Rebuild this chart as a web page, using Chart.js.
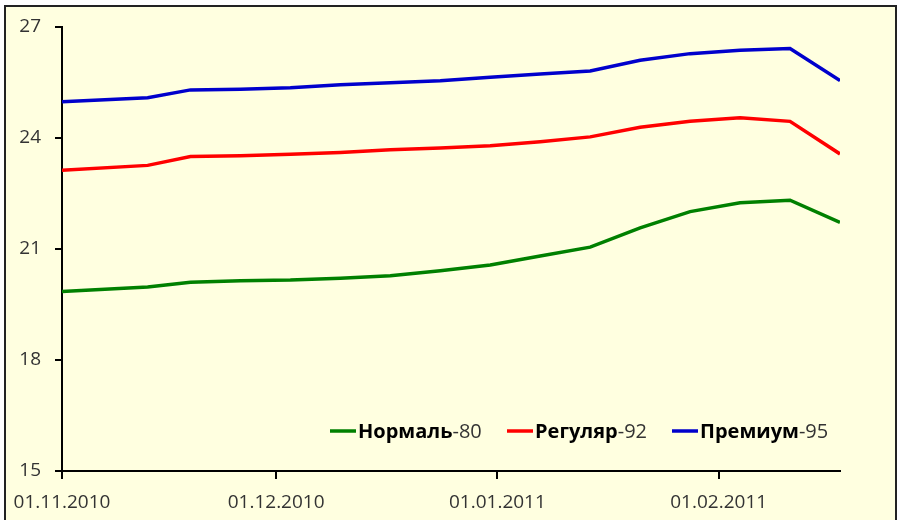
<!DOCTYPE html>
<html>
<head>
<meta charset="utf-8">
<script src="https://cdn.jsdelivr.net/npm/chart.js@4"></script>
<style>
    html, body { margin: 0; padding: 0; background: #fff; }
    #wrap { width: 898px; height: 520px; }
</style>
</head>
<body>
<div id="wrap"><canvas id="priceChart" width="898" height="520"></canvas></div>
<script>
// ----------------------------- Data -----------------------------------------
// x = days since 01.11.2010
const days = [0, 12, 18, 25, 32, 39, 46, 53, 60, 67, 74, 81, 88, 95, 102, 109];
const normal80 = [19.85, 19.97, 20.10, 20.14, 20.16, 20.21, 20.28, 20.41, 20.57, 20.81, 21.05, 21.57, 22.01, 22.25, 22.32, 21.72];
const regular92 = [23.13, 23.26, 23.50, 23.52, 23.56, 23.61, 23.68, 23.73, 23.79, 23.90, 24.03, 24.29, 24.45, 24.55, 24.45, 23.57];
const premium95 = [24.98, 25.09, 25.30, 25.32, 25.36, 25.44, 25.49, 25.55, 25.64, 25.73, 25.81, 26.10, 26.28, 26.37, 26.42, 25.55];

const tickDays = [0, 30, 61, 92];
const tickLabels = ["01.11.2010", "01.12.2010", "01.01.2011", "01.02.2011"];
const seriesNames = [["Нормаль", "-80"], ["Регуляр", "-92"], ["Премиум", "-95"]];
const seriesColors = ["#008000", "#ff0000", "#0000cc"];

const FONT = "'Open Sans', 'Noto Sans', sans-serif";

// ----------------------------- Plugins --------------------------------------
const frameBg = {
    id: "frameBg",
    beforeDraw(chart) {
        const ctx = chart.ctx;
        ctx.save();
        ctx.fillStyle = "#ffffff";
        ctx.fillRect(0, 0, chart.width, chart.height);
        ctx.fillStyle = "#ffffe0";
        ctx.fillRect(5, 6, 891, chart.height - 6);
        ctx.strokeStyle = "#222";
        ctx.lineWidth = 2;
        ctx.beginPath();
        ctx.moveTo(5, chart.height + 2);
        ctx.lineTo(5, 6);
        ctx.lineTo(896, 6);
        ctx.lineTo(896, chart.height + 2);
        ctx.stroke();
        ctx.restore();
    }
};

// legend with bold name + normal suffix
const legendStarts = [330, 507, 672];
const mixedLegend = {
    id: "mixedLegend",
    afterDraw(chart) {
        const ctx = chart.ctx;
        const y = 431;
        ctx.save();
        ctx.textBaseline = "middle";
        chart.data.datasets.forEach((ds, i) => {
            const [bold, rest] = seriesNames[i];
            let x = legendStarts[i];
            ctx.strokeStyle = ds.borderColor;
            ctx.lineWidth = 3.5;
            ctx.beginPath();
            ctx.moveTo(x, y);
            ctx.lineTo(x + 26, y);
            ctx.stroke();
            x += 28;
            ctx.font = "bold 20px " + FONT;
            ctx.fillStyle = "#000";
            ctx.fillText(bold, x, y + 1);
            x += ctx.measureText(bold).width;
            ctx.font = "20px " + FONT;
            ctx.fillStyle = "#333";
            ctx.fillText(rest, x, y + 1);
        });
        ctx.restore();
    }
};

// ----------------------------- Chart ----------------------------------------
const toPoints = (vals) => vals.map((v, i) => ({ x: days[i], y: v }));

const datasets = [normal80, regular92, premium95].map((vals, i) => ({
    label: seriesNames[i].join(""),
    data: toPoints(vals),
    borderColor: seriesColors[i],
    backgroundColor: seriesColors[i],
    borderWidth: 3.5,
    pointRadius: 0,
    tension: 0,
    fill: false,
}));

new Chart(document.getElementById("priceChart"), {
    type: "line",
    data: { datasets },
    options: {
        responsive: false,
        animation: false,
        layout: { padding: { left: 0, top: 27, right: 58, bottom: 0 } },
        plugins: {
            legend: { display: false },
            tooltip: { enabled: false },
        },
        scales: {
            x: {
                type: "linear",
                min: 0,
                max: 109,
                afterBuildTicks: (scale) => {
                    scale.ticks = tickDays.map((v) => ({ value: v }));
                },
                afterFit: (scale) => { scale.height = 49; },
                ticks: {
                    autoSkip: false,
                    maxRotation: 0,
                    padding: 12,
                    color: "#333",
                    font: { family: FONT, size: 19 },
                    callback: (v) => tickLabels[tickDays.indexOf(v)] || "",
                },
                grid: { drawOnChartArea: false, drawTicks: true, tickLength: 8, color: "#000", lineWidth: 2 },
                border: { display: true, color: "#000", width: 2 },
            },
            y: {
                min: 15,
                max: 27,
                afterFit: (scale) => { scale.width = 62; },
                ticks: {
                    stepSize: 3,
                    padding: 14,
                    color: "#333",
                    font: { family: FONT, size: 19 },
                },
                grid: { drawOnChartArea: false, drawTicks: true, tickLength: 7, color: "#000", lineWidth: 2 },
                border: { display: true, color: "#000", width: 2 },
            },
        },
    },
    plugins: [frameBg, mixedLegend],
});
</script>
</body>
</html>
